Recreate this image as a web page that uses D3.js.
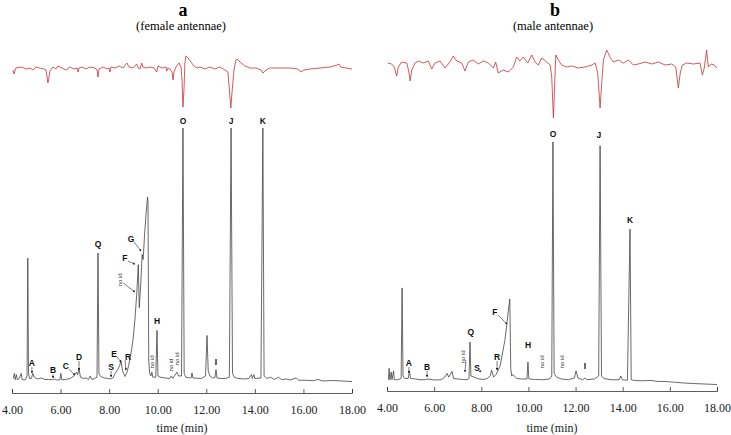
<!DOCTYPE html>
<html>
<head>
<meta charset="utf-8">
<script src="https://cdn.jsdelivr.net/npm/d3@7"></script>
<style>
  body { margin: 0; background: #fff; }
  svg { display: block; }
  .serif { font-family: "Liberation Serif", "Times New Roman", Times, serif; }
  .sans { font-family: "Liberation Sans", Arial, Helvetica, sans-serif; }
</style>
</head>
<body>
<svg></svg>
<script>
// x ticks (min)
const timeTicks = [4, 6, 8, 10, 12, 14, 16, 18];

// EAD traces: [time, response]
const femaleEad = [
  [4.04,-2],[4.08,-6],[4.16,0],[4.41,1],[4.58,-1],[4.74,0],[4.86,-2],[4.99,1],[5.15,0],[5.32,-1],
  [5.40,-2],[5.48,-15],[5.52,-10],[5.56,-3],[5.69,1],[5.81,-1],[5.89,2],[6.06,0],[6.22,-2],[6.39,1],
  [6.55,-1],[6.68,0],[6.72,-4],[6.76,0],[6.88,1],[7.05,-1],[7.21,1],[7.42,0],[7.50,-2],[7.54,-9],[7.58,-1],[7.75,1],
  [7.91,-1],[7.99,0],[8.03,-4],[8.08,1],[8.24,0],[8.41,2],[8.57,0],[8.73,5],[8.82,1],[8.98,0],[9.13,4],[9.20,0],[9.27,-1],
  [9.34,5],[9.39,1],[9.52,0],[9.68,1],[9.85,0],[9.96,-4],[10.01,2],[10.18,0],[10.34,1],[10.37,-3],[10.42,0],[10.50,-1],[10.59,-4],[10.63,-12],
  [10.67,-4],[10.75,1],[10.88,5],[10.96,1],[11.00,-12],[11.04,-39],[11.08,-22],[11.12,5],[11.16,12],[11.25,10],
  [11.37,6],[11.49,2],[11.62,0],[11.74,1],[11.95,-1],[12.15,1],[12.36,-1],[12.56,1],[12.77,-2],[12.89,-4],
  [12.97,-27],[13.01,-40],[13.05,-27],[13.14,-2],[13.22,8],[13.26,9],[13.39,6],[13.59,2],[13.80,0],[14.05,0],
  [14.25,-2],[14.33,-5],[14.46,-2],[14.62,0],[15.03,0],[15.45,0],[15.77,-1],[15.90,-4],[16.02,-2],[16.27,-1],
  [16.68,0],[17.09,1],[17.38,3],[17.46,4],[17.54,1],[17.75,0],[18.00,-1]
];
const maleEad = [
  [4.03,1],[4.20,0],[4.31,-3],[4.41,-12],[4.48,-3],[4.62,2],[4.84,1],[4.93,-8],[4.98,-17],[5.05,-6],
  [5.19,1],[5.33,3],[5.54,1],[5.75,3],[5.90,-5],[6.04,1],[6.25,3],[6.46,-4],[6.67,2],[6.81,8],
  [6.96,3],[7.17,1],[7.31,-7],[7.45,2],[7.66,4],[7.87,0],[8.09,3],[8.30,1],[8.51,-4],[8.61,2],
  [8.72,-9],[8.93,-6],[9.15,-8],[9.36,-3],[9.50,7],[9.64,3],[9.78,7],[9.97,1],[10.14,9],[10.28,2],
  [10.42,-1],[10.56,6],[10.78,2],[10.92,-1],[10.99,-13],[11.06,-54],[11.10,-29],[11.16,9],[11.27,4],[11.41,-1],
  [11.62,-3],[11.84,-2],[12.12,-4],[12.40,-3],[12.69,-1],[12.83,1],[12.94,-9],[13.04,-44],[13.11,-19],[13.18,4],
  [13.32,14],[13.46,7],[13.60,2],[13.82,4],[14.03,1],[14.24,4],[14.45,-1],[14.66,0],[14.95,2],[15.23,0],
  [15.51,2],[15.80,-1],[16.08,0],[16.25,-3],[16.36,-24],[16.44,-9],[16.53,-1],[16.72,1],[17.00,0],[17.28,1],
  [17.38,-11],[17.46,-4],[17.56,14],[17.63,-3],[17.75,0],[17.89,-1],[17.99,-4]
];

// FID chromatograms: [time, % full scale]
const femaleFid = [
  [4.05,1],[4.10,3],[4.13,0.5],[4.18,2.5],[4.22,0.5],[4.30,1],[4.38,3],[4.42,0.5],[4.55,0.5],[4.62,2],
  [4.65,48.6],[4.68,3],[4.72,1],[4.80,1],[4.86,3],[4.92,1.5],[5.05,0.8],[5.20,1.2],[5.35,0.6],[5.50,0.6],
  [5.65,0.5],[5.75,0.8],[5.85,0.4],[5.97,0.4],[6.01,3],[6.05,0.5],[6.20,0.6],[6.40,1],[6.55,2],[6.66,3.5],
  [6.70,2.5],[6.76,4.7],[6.82,1.5],[6.95,1],[7.05,1.2],[7.15,0.6],[7.22,2],[7.28,0.6],[7.40,1],[7.50,1.5],
  [7.54,50.6],[7.58,3],[7.65,1.8],[7.80,1.2],[7.95,1],[8.05,0.8],[8.15,1.2],[8.25,3],[8.35,4.5],[8.43,6],
  [8.49,8],[8.55,4],[8.65,1.8],[8.72,3],[8.80,6],[8.90,11],[8.98,16],[9.06,24],[9.14,35],[9.20,46],
  [9.24,29],[9.30,38],[9.36,50],[9.40,48],[9.46,58],[9.52,66],[9.58,72.7],[9.60,71],[9.63,8],[9.67,3],
  [9.72,2],[9.76,3.5],[9.80,1.5],[9.92,1.5],[9.97,20],[10.01,2],[10.10,1.5],[10.30,1.2],[10.50,1],[10.56,2],
  [10.62,1],[10.79,3.5],[10.86,2],[10.98,2],[11.04,100],[11.09,3],[11.15,1.5],[11.30,1.2],[11.38,1.3],[11.41,3.2],
  [11.45,1.2],[11.80,1],[11.97,2],[12.03,18],[12.08,4],[12.15,2],[12.25,1.2],[12.36,1.5],[12.40,4.5],[12.44,1.2],
  [12.60,1],[12.80,1],[12.95,1.5],[13.02,100],[13.08,3],[13.15,1.5],[13.30,1],[13.55,0.8],[13.75,1],[13.86,2.5],
  [13.90,1],[13.96,2.5],[14.00,1],[14.25,1.2],[14.33,100],[14.38,2],[14.50,1],[14.65,1.5],[14.80,0.6],[14.98,1.5],
  [15.10,0.5],[15.30,0.8],[15.45,0.4],[15.70,1.2],[15.80,0.3],[16.10,0.3],[16.40,0.1],[16.60,0.6],[16.80,0],[17.20,0.2],
  [17.60,0],[18.00,-0.2]
];
const maleFid = [
  [4.06,0.5],[4.09,5],[4.12,0.5],[4.18,3.5],[4.21,0.5],[4.28,4],[4.31,0.5],[4.45,0.5],[4.60,1],[4.64,36.8],
  [4.68,2],[4.75,1],[4.90,1],[4.95,4],[5.00,1],[5.20,0.8],[5.40,0.5],[5.60,0.5],[5.70,0.8],[6.00,0.4],
  [6.30,0.5],[6.45,1.5],[6.55,3],[6.62,1.5],[6.76,3.8],[6.82,1],[7.00,0.8],[7.20,0.6],[7.40,0.5],[7.48,1],
  [7.52,15.4],[7.56,2],[7.70,1.5],[7.90,0.8],[8.10,0.6],[8.25,1],[8.38,2],[8.44,4.3],[8.52,1.5],[8.62,2.5],
  [8.70,4],[8.80,6],[8.90,11],[9.00,16],[9.08,22],[9.15,28],[9.21,32.4],[9.25,5],[9.29,2],[9.35,2.5],
  [9.50,1],[9.70,0.8],[9.94,0.8],[9.98,7.5],[10.02,0.8],[10.30,0.6],[10.60,0.5],[10.90,0.8],[10.99,2],[11.04,94.5],
  [11.09,3],[11.20,1.5],[11.40,0.8],[11.70,0.5],[11.95,1.2],[12.02,4],[12.10,1.2],[12.30,0.5],[12.40,1.2],[12.48,0.5],
  [12.80,0.8],[12.98,2],[13.04,93],[13.10,2],[13.20,1],[13.50,0.5],[13.85,0.5],[13.92,2],[13.98,0.5],[14.20,0.3],
  [14.31,60],[14.36,0.5],[14.50,0.2],[14.80,0.1],[15.20,0.2],[15.50,-0.2],[15.80,-0.2],[16.20,-0.5],[16.60,-0.8],[17.00,-1],
  [17.50,-1.2],[18.00,-1.4]
];

// peak labels: text, time, level, arrow tip (time, level) or null
const femaleLabels = [
  ["A",4.82,7.1,[4.82,3.2]],["B",5.69,4.3,[5.69,1.2]],["C",6.22,5.9,[6.59,2.4]],["D",6.76,9.5,[6.76,4.3]],
  ["S",8.08,5.5,[8.08,1.6]],["E",8.2,10.7,[8.49,7.5]],["R",8.78,9.5,[8.69,4.3]],["Q",7.54,54.2,null],
  ["F",8.65,48.6,[9.06,46.2]],["G",8.9,56.1,[9.31,51.4]],["H",9.97,23.7,null],["I",12.4,7.5,null],
  ["O",11.04,102.8,null],["J",13.02,102.8,null],["K",14.33,102.8,null]
];
const maleLabels = [
  ["A",4.93,7.1,[4.93,3.2]],["B",5.70,5.5,[5.70,1.6]],["Q",7.56,19.4,null],["S",7.82,5.1,[7.99,3.6]],
  ["R",8.67,9.5,[8.67,4.3]],["F",8.58,27.3,[9.09,22.5]],["H",9.98,14.2,null],["I",12.40,5.9,null],
  ["O",11.04,97.6,null],["J",12.99,97.2,null],["K",14.31,63.6,null]
];
// "no id" notes: time, level, arrow tip or null
const femaleNoId = [[8.45,40,[9.06,35.2]],[9.76,7.5,null],[10.55,6.3,null],[10.79,8.7,null]];
const maleNoId = [[7.22,9.5,[7.31,3.6]],[10.58,7.5,null],[11.42,7.5,null]];

const svg = d3.select("svg").attr("width", 731).attr("height", 435);

svg.append("defs").append("marker")
  .attr("id", "tip").attr("viewBox", "0 0 6 6").attr("refX", 5).attr("refY", 3)
  .attr("markerWidth", 4).attr("markerHeight", 4).attr("orient", "auto")
  .append("path").attr("d", "M0,0L6,3L0,6Z").attr("fill", "#222");

function drawPanel(p) {
  const x = d3.scaleLinear().domain([4, 18]).range([p.x0, p.x1]);
  const yFid = d3.scaleLinear().domain([0, 100]).range([381, 128]);
  const yEad = d3.scaleLinear().domain([-60, 20]).range([p.eadBase + 60, p.eadBase - 20]);
  const mid = (p.x0 + p.x1) / 2;
  const g = svg.append("g");

  g.append("text").attr("class", "serif").attr("x", p.titleX).attr("y", 16)
    .attr("text-anchor", "middle").attr("font-size", 18).attr("font-weight", "bold")
    .text(p.letter);
  g.append("text").attr("class", "serif").attr("x", p.titleX - 2).attr("y", 30)
    .attr("text-anchor", "middle").attr("font-size", 12.5).text(p.subtitle);

  const ax = g.append("g").attr("transform", `translate(0,${p.axisY})`)
    .call(d3.axisBottom(x).tickValues(timeTicks).tickFormat(d3.format(".2f"))
      .tickSize(-4).tickSizeOuter(-4).tickPadding(12));
  ax.attr("font-family", null).attr("font-size", null);
  ax.selectAll("path,line").attr("stroke", "#333").attr("stroke-width", 0.8);
  ax.selectAll("text").attr("class", "serif").attr("font-size", 12).attr("fill", "#222");

  g.append("text").attr("class", "serif").attr("x", mid).attr("y", 432)
    .attr("text-anchor", "middle").attr("font-size", 12).attr("fill", "#222").text("time (min)");

  g.append("path").datum(p.ead)
    .attr("d", d3.line().x(d => x(d[0])).y(d => yEad(d[1])))
    .attr("fill", "none").attr("stroke", "#c9303a").attr("stroke-width", 0.8);

  g.append("path").datum(p.fid)
    .attr("d", d3.line().x(d => x(d[0])).y(d => yFid(d[1])))
    .attr("fill", "none").attr("stroke", "#444").attr("stroke-width", 0.8)
    .attr("stroke-linejoin", "round");

  // arrows from labels to peaks
  const arrows = p.labels.filter(d => d[3]).map(d => [d[1], d[2], d[3]])
    .concat(p.noid.filter(d => d[2]));
  g.selectAll("line.arr").data(arrows).join("line").attr("class", "arr")
    .attr("x1", d => {
      const dx = x(d[2][0]) - x(d[0]);
      return x(d[0]) + (Math.abs(dx) > 2 ? Math.sign(dx) * 3 : 0);
    })
    .attr("y1", d => {
      const dx = x(d[2][0]) - x(d[0]);
      return yFid(d[1]) + (Math.abs(dx) > 2 ? 3 : 4);
    })
    .attr("x2", d => x(d[2][0])).attr("y2", d => yFid(d[2][1]))
    .attr("stroke", "#222").attr("stroke-width", 0.6).attr("marker-end", "url(#tip)");

  g.selectAll("text.lab").data(p.labels).join("text").attr("class", "lab sans")
    .attr("x", d => x(d[1])).attr("y", d => yFid(d[2]))
    .attr("text-anchor", "middle").attr("dominant-baseline", "central")
    .attr("font-size", 8.5).attr("font-weight", "bold").attr("fill", "#111")
    .text(d => d[0]);

  g.selectAll("text.noid").data(p.noid).join("text").attr("class", "noid sans")
    .attr("transform", d => `translate(${x(d[0])},${yFid(d[1])}) rotate(-90)`)
    .attr("text-anchor", "middle").attr("dominant-baseline", "central")
    .attr("font-size", 6).attr("fill", "#333")
    .text("no id");
}

drawPanel({ x0: 12, x1: 352, axisY: 393, eadBase: 68, titleX: 183, letter: "a",
  subtitle: "(female antennae)", ead: femaleEad, fid: femaleFid, labels: femaleLabels, noid: femaleNoId });
drawPanel({ x0: 387, x1: 717, axisY: 391, eadBase: 64, titleX: 555, letter: "b",
  subtitle: "(male antennae)", ead: maleEad, fid: maleFid, labels: maleLabels, noid: maleNoId });
</script>
</body>
</html>
